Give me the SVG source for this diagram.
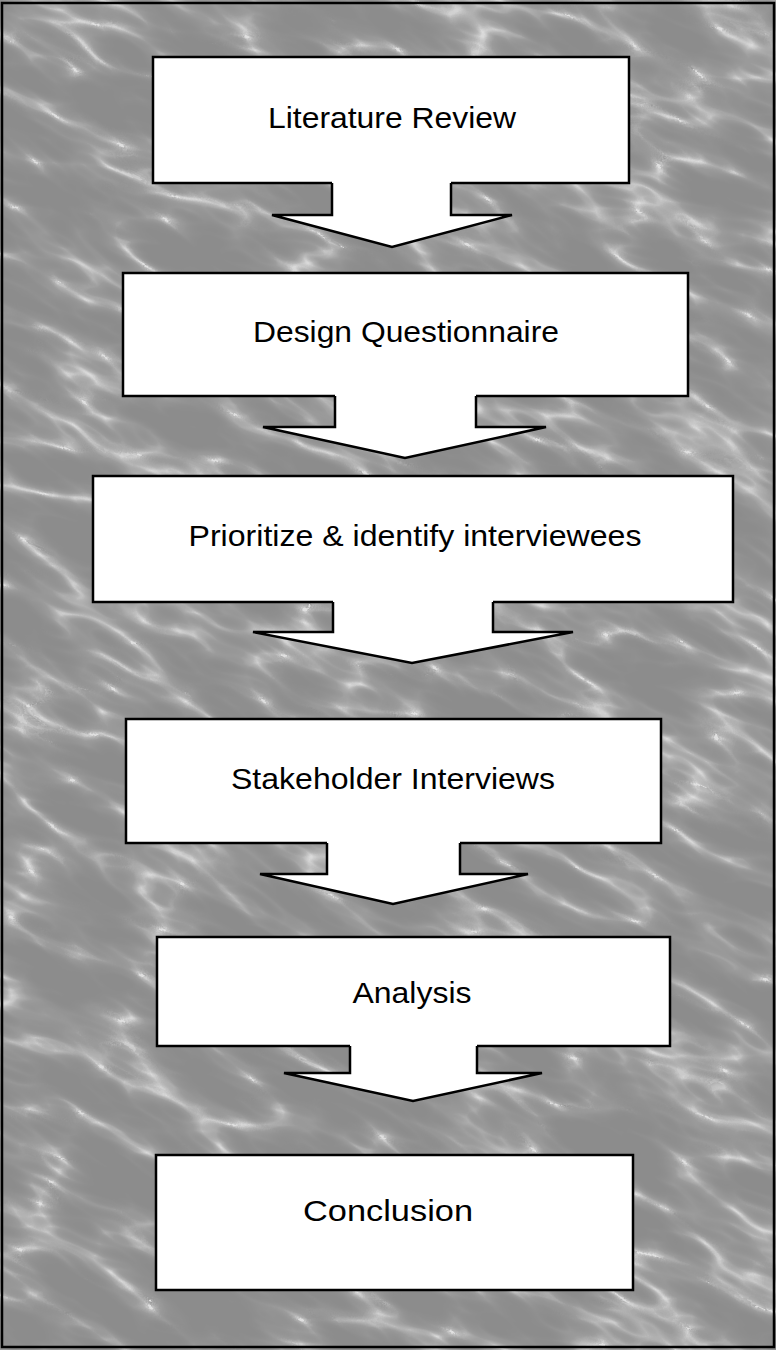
<svg xmlns="http://www.w3.org/2000/svg" width="776" height="1350" viewBox="0 0 776 1350">
  <style>
    .box { fill: #ffffff; stroke: #000000; stroke-width: 2.5; }
    .lbl { font-family: "Liberation Sans", Arial, Helvetica, sans-serif; font-size: 30px; fill: #000000; text-anchor: middle; }
    .afill { fill: #ffffff; stroke: none; }
    .aline { fill: none; stroke: #000000; stroke-width: 2.5; stroke-linejoin: miter; }
  </style>
  <defs>
    <filter id="marble" filterUnits="userSpaceOnUse" x="-700" y="-500" width="2200" height="2400" color-interpolation-filters="sRGB">
      <feTurbulence type="turbulence" baseFrequency="0.007 0.02" numOctaves="3" seed="7" result="t"/>
      <feColorMatrix in="t" type="matrix" values="1 0 0 0 0  1 0 0 0 0  1 0 0 0 0  0 0 0 0 1" result="g"/>
      <feComponentTransfer in="g">
        <feFuncR type="table" tableValues="0.88 0.70 0.61 0.58 0.56 0.55 0.55 0.55 0.55 0.55 0.55"/>
        <feFuncG type="table" tableValues="0.88 0.70 0.61 0.58 0.56 0.55 0.55 0.55 0.55 0.55 0.55"/>
        <feFuncB type="table" tableValues="0.88 0.70 0.61 0.58 0.56 0.55 0.55 0.55 0.55 0.55 0.55"/>
      </feComponentTransfer>
    </filter>
    <clipPath id="canvas"><rect x="0" y="0" width="776" height="1350"/></clipPath>
  </defs>

  <g id="background">
    <rect x="0" y="0" width="776" height="1350" fill="#929292"/>
    <g clip-path="url(#canvas)">
      <rect x="-700" y="-500" width="2200" height="2400" fill="#929292" filter="url(#marble)" transform="rotate(24 388 675)"/>
    </g>
    <rect x="2" y="3" width="772" height="1344" fill="none" stroke="#000000" stroke-width="2.5"/>
  </g>

  <g id="node-literature-review">
    <rect class="box" x="153" y="57" width="476" height="126"/>
    <text class="lbl" x="392" y="128" textLength="248" lengthAdjust="spacingAndGlyphs">Literature Review</text>
  </g>
  <g id="node-design-questionnaire">
    <rect class="box" x="123" y="273" width="565" height="123"/>
    <text class="lbl" x="406" y="342" textLength="306" lengthAdjust="spacingAndGlyphs">Design Questionnaire</text>
  </g>
  <g id="node-prioritize">
    <rect class="box" x="93" y="476" width="640" height="126"/>
    <text class="lbl" x="415" y="546" textLength="453" lengthAdjust="spacingAndGlyphs">Prioritize &amp; identify interviewees</text>
  </g>
  <g id="node-stakeholder-interviews">
    <rect class="box" x="126" y="719" width="535" height="124"/>
    <text class="lbl" x="393" y="789" textLength="324" lengthAdjust="spacingAndGlyphs">Stakeholder Interviews</text>
  </g>
  <g id="node-analysis">
    <rect class="box" x="157" y="937" width="513" height="109"/>
    <text class="lbl" x="412" y="1003" textLength="119" lengthAdjust="spacingAndGlyphs">Analysis</text>
  </g>
  <g id="node-conclusion">
    <rect class="box" x="156" y="1155" width="477" height="135"/>
    <text class="lbl" x="388" y="1221" textLength="170" lengthAdjust="spacingAndGlyphs">Conclusion</text>
  </g>

  <g id="connectors">
    <g id="arrow-1">
      <polygon class="afill" points="332,180 451,180 451,215 512,215 392,247 272,215 332,215"/>
      <polyline class="aline" points="332,183 332,215 272,215 392,247 512,215 451,215 451,183"/>
    </g>
    <g id="arrow-2">
      <polygon class="afill" points="335,393 476,393 476,427 546,427 405,458 263,427 335,427"/>
      <polyline class="aline" points="335,396 335,427 263,427 405,458 546,427 476,427 476,396"/>
    </g>
    <g id="arrow-3">
      <polygon class="afill" points="333,599 493,599 493,632 573,632 412,663 253,632 333,632"/>
      <polyline class="aline" points="333,602 333,632 253,632 412,663 573,632 493,632 493,602"/>
    </g>
    <g id="arrow-4">
      <polygon class="afill" points="327,840 460,840 460,874 528,874 393,904 260,874 327,874"/>
      <polyline class="aline" points="327,843 327,874 260,874 393,904 528,874 460,874 460,843"/>
    </g>
    <g id="arrow-5">
      <polygon class="afill" points="350,1043 477,1043 477,1073 542,1073 413,1101 284,1073 350,1073"/>
      <polyline class="aline" points="350,1046 350,1073 284,1073 413,1101 542,1073 477,1073 477,1046"/>
    </g>
  </g>
</svg>
